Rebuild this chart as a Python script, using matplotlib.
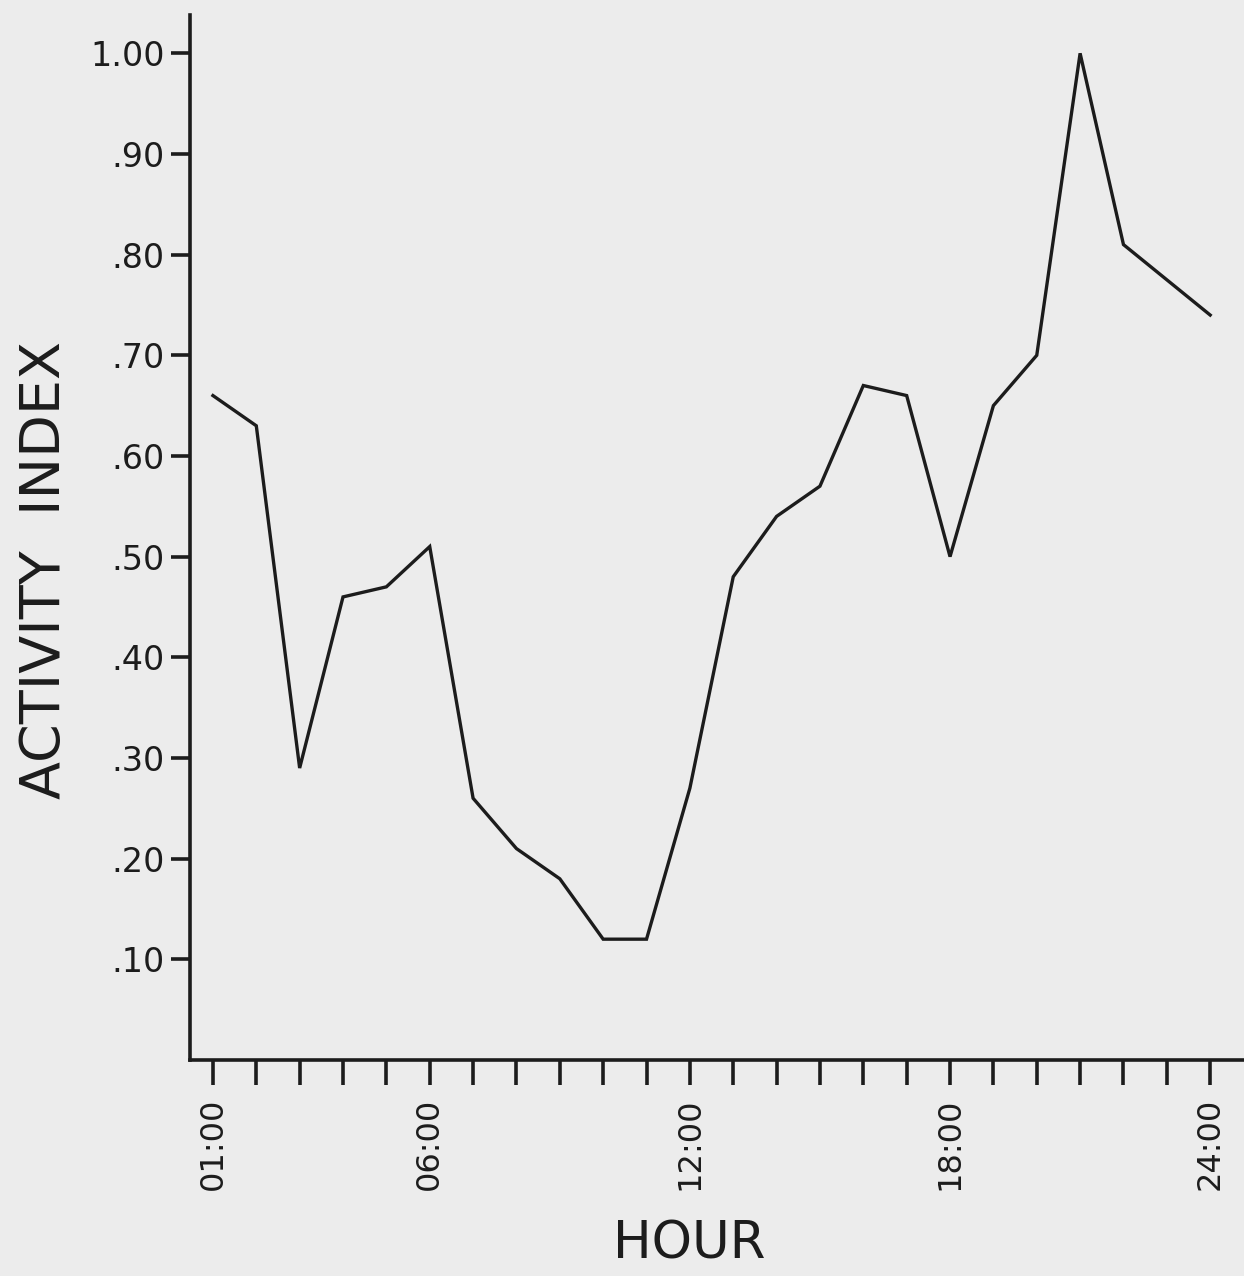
import numpy as np
import matplotlib
matplotlib.use("Agg")
import matplotlib.pyplot as plt

# Datos
hours = np.arange(1, 25)
activity = [0.66, 0.63, 0.29, 0.46, 0.47, 0.51, 0.26, 0.21, 0.18, 0.12, 0.12, 0.27,
            0.48, 0.54, 0.57, 0.67, 0.66, 0.50, 0.65, 0.70, 1.00, 0.81, 0.775, 0.74]
yticks = [0.10, 0.20, 0.30, 0.40, 0.50, 0.60, 0.70, 0.80, 0.90, 1.00]
ytick_labels = [".10", ".20", ".30", ".40", ".50", ".60", ".70", ".80", ".90", "1.00"]
xtick_labels = {1: "01:00", 6: "06:00", 12: "12:00", 18: "18:00", 24: "24:00"}

bg = "#ececec"
ink = "#1c1c1c"

fig = plt.figure(figsize=(12.44, 12.76), dpi=100, facecolor=bg)
ax = fig.add_axes([0.1527, 0.1693, 0.8473, 0.8189])
ax.set_facecolor(bg)

ax.plot(hours, activity, color=ink, linewidth=2.4, solid_joinstyle="miter")

ax.set_xlim(0.47, 24.78)
ax.set_ylim(0, 1.038)

ax.set_yticks(yticks)
ax.set_yticklabels(ytick_labels)
ax.set_xticks(hours)
ax.set_xticklabels([xtick_labels.get(h, "") for h in hours], rotation=90)

for side in ["top", "right"]:
    ax.spines[side].set_visible(False)
for side in ["left", "bottom"]:
    ax.spines[side].set_linewidth(2.6)
    ax.spines[side].set_color(ink)

ax.tick_params(axis="y", direction="out", length=14, width=2.6, pad=4,
               labelsize=24, colors=ink)
ax.tick_params(axis="x", direction="out", length=18, width=2.6, pad=9,
               labelsize=23, colors=ink)

ax.set_ylabel("ACTIVITY  INDEX", fontsize=40, color=ink)
ax.yaxis.set_label_coords(-0.112, 0.469)
ax.set_xlabel("HOUR", fontsize=37, color=ink)
ax.xaxis.set_label_coords(0.474, -0.153)
ax.xaxis.label.set_va("top")

fig.savefig("out.png", dpi=100, facecolor=bg)
